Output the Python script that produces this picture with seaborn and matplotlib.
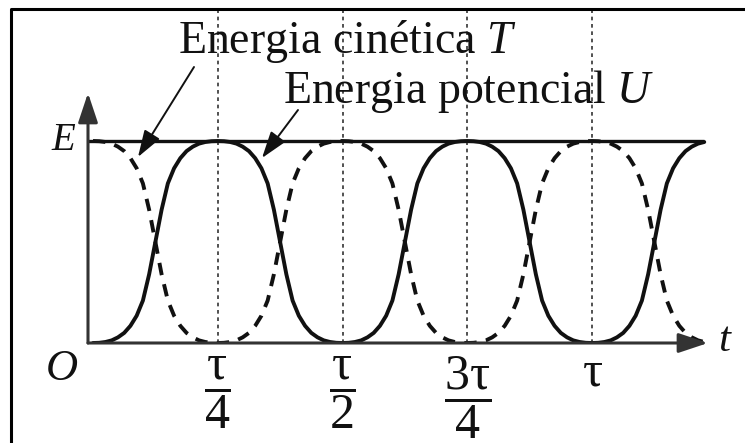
import numpy as np
import pandas as pd
import seaborn as sns
import matplotlib.pyplot as plt
from matplotlib.lines import Line2D

# ---- data (time in units of the period tau, energy in units of E) ----
# one quarter-period rise of the potential energy, sampled every tau/80
quarter_t = [0.0, 0.0125, 0.025, 0.0375, 0.05, 0.0625, 0.075, 0.0875, 0.1, 0.1125,
             0.125, 0.1375, 0.15, 0.1625, 0.175, 0.1875, 0.2, 0.2125, 0.225, 0.2375, 0.25]
quarter_rise = [0.0, 0.001, 0.005, 0.013, 0.028, 0.05, 0.085, 0.135, 0.21, 0.34,
                0.5, 0.66, 0.79, 0.865, 0.915, 0.95, 0.972, 0.987, 0.995, 0.999, 1.0]
t_end = 1.2325                      # right end of the time axis
E_level = 1.0
tick_pos = [0.25, 0.5, 0.75, 1.0]
tick_labels = [r'$\dfrac{\tau}{4}$', r'$\dfrac{\tau}{2}$', r'$\dfrac{3\tau}{4}$', r'$\tau$']
label_T = r'Energia cinética $\mathit{T}$'
label_U = r'Energia potencial $\mathit{U}$'

# ---- build U(t) and T(t) from the quarter profile ----
rise = np.array(quarter_rise)
fall = rise[::-1]
qt = np.array(quarter_t)
t_all, u_all = [], []
for q in range(5):
    seg = rise if q % 2 == 0 else fall
    ts = qt + 0.25 * q
    keep = ts <= t_end
    if q > 0:
        keep[0] = False
    t_all.extend(ts[keep]); u_all.extend(seg[keep])
t_all = np.array(t_all); u_all = np.array(u_all) * E_level
t_kin = E_level - u_all
df = pd.concat([
    pd.DataFrame({'t': t_all, 'energia': u_all, 'tipo': 'U'}),
    pd.DataFrame({'t': t_all, 'energia': t_kin, 'tipo': 'T'}),
])

# ---- style ----
sns.set_theme(style='white')
plt.rcParams['font.family'] = ['Liberation Serif', 'DejaVu Serif']
plt.rcParams['mathtext.fontset'] = 'custom'
plt.rcParams['mathtext.rm'] = 'Liberation Serif'
plt.rcParams['mathtext.it'] = 'Liberation Serif:italic'
plt.rcParams['mathtext.default'] = 'rm'

W, H = 745, 443
fig = plt.figure(figsize=(W / 100, H / 100), dpi=100)
fig.patch.set_facecolor('white')

# axes box: origin at (88, 343) px, x-arrow tip at 708 px, y-arrow tip at 93 px
px_t0, px_tau = 93, 499          # pixel of t=0 and pixels per period
py_0, py_E = 343, 202            # pixel of energy 0 and pixels per E
x_left, x_right, y_top = 88, 708, 93
ax = fig.add_axes([x_left / W, (H - py_0) / H, (x_right - x_left) / W, (py_0 - y_top) / H])
ax.set_xlim((x_left - px_t0) / px_tau, (x_right - px_t0) / px_tau)
ax.set_ylim(0, (py_0 - y_top) / py_E)
for s in ax.spines.values():
    s.set_visible(False)
ax.set_facecolor('none')

ink = '#111111'

# dotted guides at the tick times, running up to the frame
v_top = (py_0 - 9) / py_E
ax.vlines(tick_pos, 0, v_top, colors='#333333', linestyles=(0, (2.2, 2.2)),
          linewidth=1.2, clip_on=False, zorder=1)

# energy E level
ax.plot([ax.get_xlim()[0], t_all[-1]], [E_level, E_level], color=ink, lw=2.4,
        solid_capstyle='butt', zorder=3)

# kinetic (dashed) and potential (solid) energy
sns.lineplot(data=df, x='t', y='energia', style='tipo',
             dashes={'U': '', 'T': (3.2, 2.4)}, color=ink, linewidth=2.8,
             sort=False, estimator=None, legend=False, ax=ax, zorder=4)

# axes with arrowheads
xl, yl = ax.get_xlim(), ax.get_ylim()
arrow_kw = dict(arrowstyle='-|>,head_length=0.6,head_width=0.2', mutation_scale=30,
                lw=2.2, color='#333333', shrinkA=0, shrinkB=0)
ax.annotate('', xy=(xl[1], 0), xytext=(xl[0], 0), arrowprops=arrow_kw, zorder=5)
ax.annotate('', xy=(xl[0], yl[1]), xytext=(xl[0], 0), arrowprops=arrow_kw, zorder=5)

# ticks
ax.set_xticks(tick_pos, tick_labels)
ax.set_yticks([])
ax.tick_params(axis='x', length=0, pad=8, labelsize=36, labelcolor=ink)
ax.xaxis.get_major_ticks()[3].set_pad(5)
ax.set_xlabel(''); ax.set_ylabel('')

# axis letters
fig.text(64 / W, (H - 140) / H, r'$\mathit{E}$', fontsize=28, ha='center', va='center', color=ink)
fig.text(62 / W, (H - 369) / H, r'$\mathit{O}$', fontsize=32, ha='center', va='center', color=ink)
fig.text(725 / W, (H - 341) / H, r'$\mathit{t}$', fontsize=31, ha='center', va='center', color=ink)

# callouts
fig.text(178 / W, (H - 53) / H, label_T, fontsize=33, ha='left', va='baseline', color=ink)
fig.text(283 / W, (H - 103) / H, label_U, fontsize=33, ha='left', va='baseline', color=ink)
call_kw = dict(arrowstyle='-|>,head_length=0.75,head_width=0.25', mutation_scale=22,
               lw=1.4, color=ink, shrinkA=0, shrinkB=0)
ax.annotate('', xy=(138, H - 157), xycoords='figure pixels',
            xytext=(194, H - 67), textcoords='figure pixels', arrowprops=call_kw)
ax.annotate('', xy=(262, H - 158), xycoords='figure pixels',
            xytext=(298, H - 110), textcoords='figure pixels', arrowprops=call_kw)

# outer frame (top and left edges)
fig.add_artist(Line2D([11 / W, 11 / W, 1.0], [0.0, (H - 9) / H, (H - 9) / H],
                      transform=fig.transFigure, color='black', lw=2.2))

fig.savefig('out.png', dpi=100, facecolor='white')
